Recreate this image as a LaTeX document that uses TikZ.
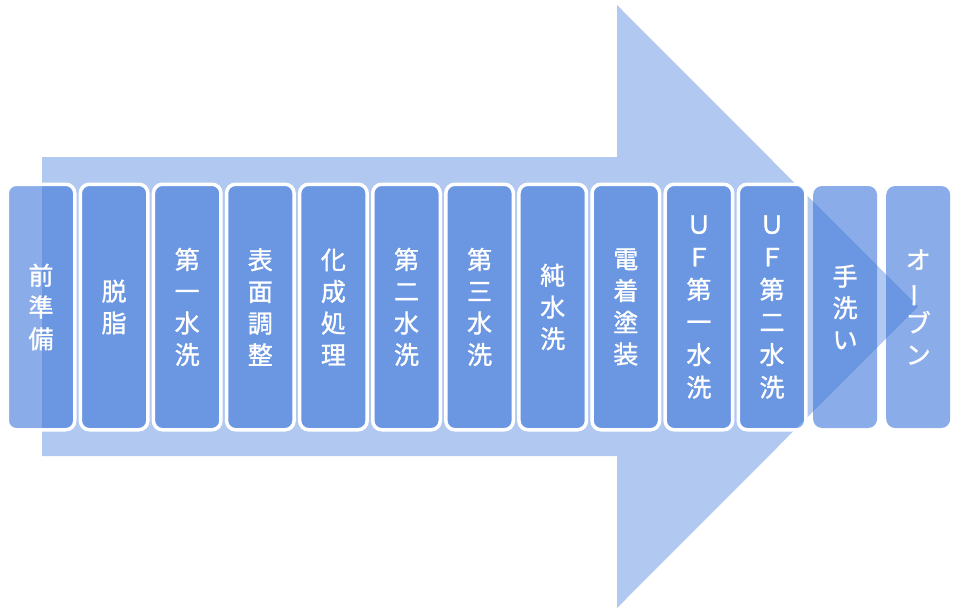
\documentclass[tikz,border=0pt]{standalone}
\usepackage{fontspec}
\newfontfamily\jpfont[FakeBold=1.2]{Noto Sans CJK JP}
\usepackage{tikz}
\usetikzlibrary{shapes}
\definecolor{arrowblue}{RGB}{177,200,240}
\definecolor{boxblue}{RGB}{60,117,217}

\begin{document}
\begin{tikzpicture}[procbox/.style={draw=white,line width=3.5bp,rounded corners=9bp,fill=boxblue,fill opacity=0.6,draw opacity=1,text opacity=1,text=white,minimum width=67.5bp,minimum height=245.5bp,inner sep=0pt,align=center,font=\jpfont\fontsize{25bp}{31.7bp}\selectfont},
lastbox/.style={procbox,draw=none,minimum width=64bp,minimum height=242bp}]

\useasboundingbox (0bp,0bp) rectangle (960bp,-615bp);
\fill [arrowblue] (42bp,-157bp) -- (617bp,-157bp) -- (617bp,-5bp) -- (918bp,-306.5bp) -- (617bp,-608bp) -- (617bp,-456bp) -- (42bp,-456bp) -- cycle;

\node (S1) at (41.0bp,-307bp)[procbox] {前\\準\\備};
\node (S2) at (114.1bp,-307bp)[procbox] {脱\\脂};
\node (S3) at (187.2bp,-307bp)[procbox] {第\\一\\水\\洗};
\node (S4) at (260.3bp,-307bp)[procbox] {表\\面\\調\\整};
\node (S5) at (333.4bp,-307bp)[procbox] {化\\成\\処\\理};
\node (S6) at (406.5bp,-307bp)[procbox] {第\\二\\水\\洗};
\node (S7) at (479.6bp,-307bp)[procbox] {第\\三\\水\\洗};
\node (S8) at (552.7bp,-307bp)[procbox] {純\\水\\洗};
\node (S9) at (625.8bp,-307bp)[procbox] {電\\着\\塗\\装};
\node (S10) at (698.9bp,-307bp)[procbox,font=\jpfont\fontsize{25bp}{32.6bp}\selectfont] {Ｕ\\Ｆ\\第\\一\\水\\洗};
\node (S11) at (772.0bp,-307bp)[procbox,font=\jpfont\fontsize{25bp}{32.6bp}\selectfont] {Ｕ\\Ｆ\\第\\二\\水\\洗};
\node (S12) at (845.1bp,-307bp)[lastbox] {手\\洗\\い};
\node (S13) at (918.2bp,-307bp)[lastbox] {オ\\\rotatebox[origin=c]{90}{ー}\\ブ\\ン};
\end{tikzpicture}
\end{document}
